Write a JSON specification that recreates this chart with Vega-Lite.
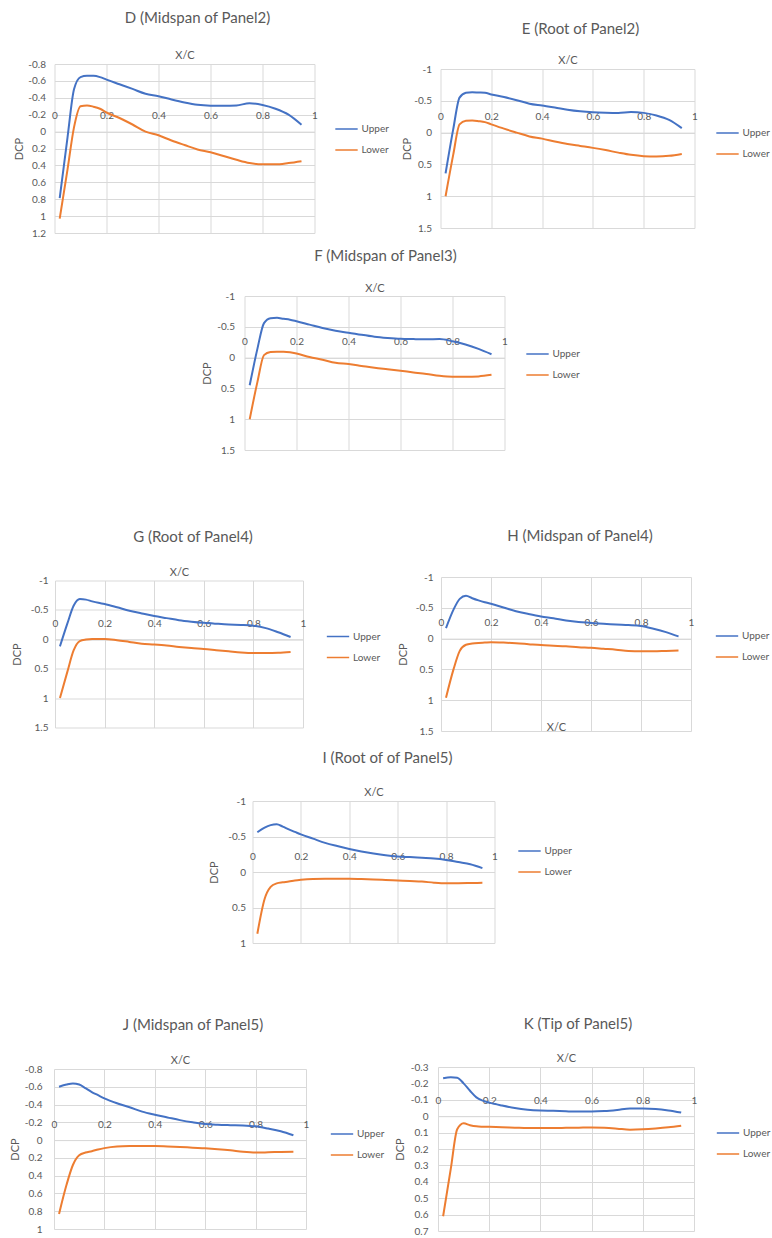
{
"$schema":"https://vega.github.io/schema/vega-lite/v6.json",
"background":"white",
"padding":{"left":9,"top":11,"right":0,"bottom":0},
"data":{"values":[
{"p":"D","x":0.02,"Upper":0.786,"Lower":1.03},{"p":"D","x":0.05,"Upper":0.07,"Lower":0.45},{"p":"D","x":0.075,"Upper":-0.5,"Lower":-0.05},{"p":"D","x":0.1,"Upper":-0.645,"Lower":-0.3},{"p":"D","x":0.125,"Upper":-0.66,"Lower":-0.31},{"p":"D","x":0.15,"Upper":-0.66,"Lower":-0.295},{"p":"D","x":0.175,"Upper":-0.645,"Lower":-0.27},{"p":"D","x":0.2,"Upper":-0.615,"Lower":-0.226},{"p":"D","x":0.25,"Upper":-0.56,"Lower":-0.161},{"p":"D","x":0.3,"Upper":-0.505,"Lower":-0.084},{"p":"D","x":0.35,"Upper":-0.448,"Lower":0.0},{"p":"D","x":0.4,"Upper":-0.419,"Lower":0.044},{"p":"D","x":0.45,"Upper":-0.38,"Lower":0.105},{"p":"D","x":0.5,"Upper":-0.345,"Lower":0.159},{"p":"D","x":0.55,"Upper":-0.318,"Lower":0.211},{"p":"D","x":0.6,"Upper":-0.307,"Lower":0.244},{"p":"D","x":0.65,"Upper":-0.305,"Lower":0.289},{"p":"D","x":0.7,"Upper":-0.31,"Lower":0.334},{"p":"D","x":0.75,"Upper":-0.335,"Lower":0.372},{"p":"D","x":0.8,"Upper":-0.315,"Lower":0.387},{"p":"D","x":0.85,"Upper":-0.27,"Lower":0.387},{"p":"D","x":0.9,"Upper":-0.2,"Lower":0.372},{"p":"D","x":0.95,"Upper":-0.08,"Lower":0.35},
{"p":"E","x":0.02,"Upper":0.64,"Lower":1.0},{"p":"E","x":0.05,"Upper":-0.05,"Lower":0.35},{"p":"E","x":0.075,"Upper":-0.55,"Lower":-0.13},{"p":"E","x":0.1,"Upper":-0.625,"Lower":-0.185},{"p":"E","x":0.125,"Upper":-0.635,"Lower":-0.19},{"p":"E","x":0.15,"Upper":-0.63,"Lower":-0.18},{"p":"E","x":0.175,"Upper":-0.625,"Lower":-0.165},{"p":"E","x":0.2,"Upper":-0.6,"Lower":-0.13},{"p":"E","x":0.25,"Upper":-0.56,"Lower":-0.062},{"p":"E","x":0.3,"Upper":-0.51,"Lower":0.0},{"p":"E","x":0.35,"Upper":-0.455,"Lower":0.06},{"p":"E","x":0.4,"Upper":-0.425,"Lower":0.095},{"p":"E","x":0.45,"Upper":-0.395,"Lower":0.14},{"p":"E","x":0.5,"Upper":-0.36,"Lower":0.18},{"p":"E","x":0.55,"Upper":-0.335,"Lower":0.21},{"p":"E","x":0.6,"Upper":-0.32,"Lower":0.24},{"p":"E","x":0.65,"Upper":-0.313,"Lower":0.275},{"p":"E","x":0.7,"Upper":-0.31,"Lower":0.315},{"p":"E","x":0.75,"Upper":-0.325,"Lower":0.35},{"p":"E","x":0.8,"Upper":-0.31,"Lower":0.37},{"p":"E","x":0.85,"Upper":-0.27,"Lower":0.375},{"p":"E","x":0.9,"Upper":-0.2,"Lower":0.365},{"p":"E","x":0.95,"Upper":-0.07,"Lower":0.335},
{"p":"F","x":0.02,"Upper":0.45,"Lower":1.0},{"p":"F","x":0.05,"Upper":-0.15,"Lower":0.39},{"p":"F","x":0.075,"Upper":-0.56,"Lower":-0.04},{"p":"F","x":0.1,"Upper":-0.64,"Lower":-0.09},{"p":"F","x":0.125,"Upper":-0.645,"Lower":-0.097},{"p":"F","x":0.15,"Upper":-0.63,"Lower":-0.095},{"p":"F","x":0.175,"Upper":-0.615,"Lower":-0.085},{"p":"F","x":0.2,"Upper":-0.59,"Lower":-0.065},{"p":"F","x":0.25,"Upper":-0.535,"Lower":-0.01},{"p":"F","x":0.3,"Upper":-0.48,"Lower":0.035},{"p":"F","x":0.35,"Upper":-0.435,"Lower":0.085},{"p":"F","x":0.4,"Upper":-0.405,"Lower":0.105},{"p":"F","x":0.45,"Upper":-0.37,"Lower":0.135},{"p":"F","x":0.5,"Upper":-0.34,"Lower":0.165},{"p":"F","x":0.55,"Upper":-0.32,"Lower":0.19},{"p":"F","x":0.6,"Upper":-0.305,"Lower":0.215},{"p":"F","x":0.65,"Upper":-0.3,"Lower":0.24},{"p":"F","x":0.7,"Upper":-0.297,"Lower":0.265},{"p":"F","x":0.75,"Upper":-0.3,"Lower":0.295},{"p":"F","x":0.8,"Upper":-0.265,"Lower":0.31},{"p":"F","x":0.85,"Upper":-0.213,"Lower":0.31},{"p":"F","x":0.9,"Upper":-0.142,"Lower":0.305},{"p":"F","x":0.95,"Upper":-0.055,"Lower":0.28},
{"p":"G","x":0.02,"Upper":0.12,"Lower":1.0},{"p":"G","x":0.05,"Upper":-0.27,"Lower":0.55},{"p":"G","x":0.075,"Upper":-0.57,"Lower":0.19},{"p":"G","x":0.1,"Upper":-0.685,"Lower":0.03},{"p":"G","x":0.125,"Upper":-0.675,"Lower":0.005},{"p":"G","x":0.15,"Upper":-0.645,"Lower":-0.005},{"p":"G","x":0.175,"Upper":-0.62,"Lower":-0.006},{"p":"G","x":0.2,"Upper":-0.6,"Lower":-0.006},{"p":"G","x":0.25,"Upper":-0.545,"Lower":0.015},{"p":"G","x":0.3,"Upper":-0.485,"Lower":0.045},{"p":"G","x":0.35,"Upper":-0.44,"Lower":0.075},{"p":"G","x":0.4,"Upper":-0.395,"Lower":0.088},{"p":"G","x":0.45,"Upper":-0.36,"Lower":0.105},{"p":"G","x":0.5,"Upper":-0.325,"Lower":0.13},{"p":"G","x":0.55,"Upper":-0.3,"Lower":0.15},{"p":"G","x":0.6,"Upper":-0.28,"Lower":0.165},{"p":"G","x":0.65,"Upper":-0.265,"Lower":0.185},{"p":"G","x":0.7,"Upper":-0.252,"Lower":0.205},{"p":"G","x":0.75,"Upper":-0.245,"Lower":0.225},{"p":"G","x":0.8,"Upper":-0.23,"Lower":0.235},{"p":"G","x":0.85,"Upper":-0.19,"Lower":0.235},{"p":"G","x":0.9,"Upper":-0.12,"Lower":0.23},{"p":"G","x":0.95,"Upper":-0.04,"Lower":0.215},
{"p":"H","x":0.02,"Upper":-0.17,"Lower":0.96},{"p":"H","x":0.05,"Upper":-0.47,"Lower":0.5},{"p":"H","x":0.075,"Upper":-0.645,"Lower":0.2},{"p":"H","x":0.1,"Upper":-0.695,"Lower":0.1},{"p":"H","x":0.125,"Upper":-0.655,"Lower":0.08},{"p":"H","x":0.15,"Upper":-0.62,"Lower":0.07},{"p":"H","x":0.175,"Upper":-0.59,"Lower":0.065},{"p":"H","x":0.2,"Upper":-0.565,"Lower":0.06},{"p":"H","x":0.25,"Upper":-0.505,"Lower":0.065},{"p":"H","x":0.3,"Upper":-0.445,"Lower":0.075},{"p":"H","x":0.35,"Upper":-0.4,"Lower":0.09},{"p":"H","x":0.4,"Upper":-0.36,"Lower":0.105},{"p":"H","x":0.45,"Upper":-0.33,"Lower":0.115},{"p":"H","x":0.5,"Upper":-0.295,"Lower":0.125},{"p":"H","x":0.55,"Upper":-0.27,"Lower":0.14},{"p":"H","x":0.6,"Upper":-0.255,"Lower":0.15},{"p":"H","x":0.65,"Upper":-0.24,"Lower":0.165},{"p":"H","x":0.7,"Upper":-0.228,"Lower":0.18},{"p":"H","x":0.75,"Upper":-0.22,"Lower":0.2},{"p":"H","x":0.8,"Upper":-0.205,"Lower":0.205},{"p":"H","x":0.85,"Upper":-0.16,"Lower":0.205},{"p":"H","x":0.9,"Upper":-0.105,"Lower":0.2},{"p":"H","x":0.95,"Upper":-0.035,"Lower":0.195},
{"p":"I","x":0.02,"Upper":-0.56,"Lower":0.87},{"p":"I","x":0.05,"Upper":-0.625,"Lower":0.38},{"p":"I","x":0.075,"Upper":-0.66,"Lower":0.21},{"p":"I","x":0.1,"Upper":-0.672,"Lower":0.16},{"p":"I","x":0.125,"Upper":-0.64,"Lower":0.145},{"p":"I","x":0.15,"Upper":-0.6,"Lower":0.135},{"p":"I","x":0.175,"Upper":-0.565,"Lower":0.12},{"p":"I","x":0.2,"Upper":-0.53,"Lower":0.11},{"p":"I","x":0.25,"Upper":-0.47,"Lower":0.098},{"p":"I","x":0.3,"Upper":-0.41,"Lower":0.095},{"p":"I","x":0.35,"Upper":-0.365,"Lower":0.096},{"p":"I","x":0.4,"Upper":-0.325,"Lower":0.096},{"p":"I","x":0.45,"Upper":-0.29,"Lower":0.1},{"p":"I","x":0.5,"Upper":-0.26,"Lower":0.105},{"p":"I","x":0.55,"Upper":-0.235,"Lower":0.112},{"p":"I","x":0.6,"Upper":-0.218,"Lower":0.12},{"p":"I","x":0.65,"Upper":-0.21,"Lower":0.128},{"p":"I","x":0.7,"Upper":-0.2,"Lower":0.135},{"p":"I","x":0.75,"Upper":-0.19,"Lower":0.15},{"p":"I","x":0.8,"Upper":-0.17,"Lower":0.158},{"p":"I","x":0.85,"Upper":-0.14,"Lower":0.158},{"p":"I","x":0.9,"Upper":-0.11,"Lower":0.156},{"p":"I","x":0.95,"Upper":-0.055,"Lower":0.153},
{"p":"J","x":0.02,"Upper":-0.6,"Lower":0.83},{"p":"J","x":0.05,"Upper":-0.625,"Lower":0.5},{"p":"J","x":0.075,"Upper":-0.637,"Lower":0.28},{"p":"J","x":0.1,"Upper":-0.625,"Lower":0.17},{"p":"J","x":0.125,"Upper":-0.585,"Lower":0.14},{"p":"J","x":0.15,"Upper":-0.54,"Lower":0.125},{"p":"J","x":0.175,"Upper":-0.505,"Lower":0.105},{"p":"J","x":0.2,"Upper":-0.47,"Lower":0.09},{"p":"J","x":0.25,"Upper":-0.415,"Lower":0.072},{"p":"J","x":0.3,"Upper":-0.37,"Lower":0.067},{"p":"J","x":0.35,"Upper":-0.32,"Lower":0.066},{"p":"J","x":0.4,"Upper":-0.285,"Lower":0.066},{"p":"J","x":0.45,"Upper":-0.255,"Lower":0.071},{"p":"J","x":0.5,"Upper":-0.225,"Lower":0.077},{"p":"J","x":0.55,"Upper":-0.2,"Lower":0.085},{"p":"J","x":0.6,"Upper":-0.18,"Lower":0.092},{"p":"J","x":0.65,"Upper":-0.172,"Lower":0.102},{"p":"J","x":0.7,"Upper":-0.168,"Lower":0.115},{"p":"J","x":0.75,"Upper":-0.165,"Lower":0.132},{"p":"J","x":0.8,"Upper":-0.155,"Lower":0.14},{"p":"J","x":0.85,"Upper":-0.13,"Lower":0.137},{"p":"J","x":0.9,"Upper":-0.1,"Lower":0.133},{"p":"J","x":0.95,"Upper":-0.055,"Lower":0.13},
{"p":"K","x":0.02,"Upper":-0.232,"Lower":0.61},{"p":"K","x":0.05,"Upper":-0.238,"Lower":0.32},{"p":"K","x":0.075,"Upper":-0.235,"Lower":0.08},{"p":"K","x":0.1,"Upper":-0.2,"Lower":0.043},{"p":"K","x":0.125,"Upper":-0.155,"Lower":0.055},{"p":"K","x":0.15,"Upper":-0.115,"Lower":0.062},{"p":"K","x":0.175,"Upper":-0.095,"Lower":0.064},{"p":"K","x":0.2,"Upper":-0.083,"Lower":0.065},{"p":"K","x":0.25,"Upper":-0.065,"Lower":0.068},{"p":"K","x":0.3,"Upper":-0.05,"Lower":0.07},{"p":"K","x":0.35,"Upper":-0.04,"Lower":0.072},{"p":"K","x":0.4,"Upper":-0.035,"Lower":0.072},{"p":"K","x":0.45,"Upper":-0.033,"Lower":0.072},{"p":"K","x":0.5,"Upper":-0.03,"Lower":0.071},{"p":"K","x":0.55,"Upper":-0.028,"Lower":0.07},{"p":"K","x":0.6,"Upper":-0.028,"Lower":0.069},{"p":"K","x":0.65,"Upper":-0.031,"Lower":0.071},{"p":"K","x":0.7,"Upper":-0.038,"Lower":0.076},{"p":"K","x":0.75,"Upper":-0.047,"Lower":0.082},{"p":"K","x":0.8,"Upper":-0.047,"Lower":0.08},{"p":"K","x":0.85,"Upper":-0.044,"Lower":0.075},{"p":"K","x":0.9,"Upper":-0.035,"Lower":0.068},{"p":"K","x":0.95,"Upper":-0.022,"Lower":0.058}
]},
"spacing":74,
"center":true,
"resolve":{"scale":{"color":"independent"},"legend":{"color":"independent"}},
"vconcat":[
 {"spacing":11,"center":true,
  "resolve":{"scale":{"color":"independent"},"legend":{"color":"independent"}},
  "vconcat":[
   {"hconcat":[
     {"width":260,"height":169,
      "title":{"text":"D (Midspan of Panel2)","offset":23,"dx":13},
      "transform":[{"filter":"datum.p=='D'"},{"fold":["Upper","Lower"],"as":["s","y"]}],
      "mark":{"type":"line","interpolate":"monotone","strokeWidth":2},
      "encoding":{
       "x":{"field":"x","type":"quantitative","scale":{"domain":[0,1],"nice":false},"axis":{"orient":"top","offset":-67.6,"values":[0,0.2,0.4,0.6,0.8,1],"labelExpr":"''+datum.value","title":"X/C","titleY":-76.6,"titleBaseline":"middle"}},
       "y":{"field":"y","type":"quantitative","scale":{"domain":[-0.8,1.2],"reverse":true,"nice":false,"zero":false},"axis":{"values":[-0.8,-0.6,-0.4,-0.2,0,0.2,0.4,0.6,0.8,1,1.2],"labelExpr":"''+datum.value","title":"DCP","labelPadding":9,"titlePadding":3}},
       "color":{"field":"s","type":"nominal","scale":{"domain":["Upper","Lower"],"range":["#4472C4","#ED7D31"]},"legend":{"title":null,"orient":"none","legendX":280,"legendY":53}}}},
     {"width":254,"height":159,
      "title":{"text":"E (Root of Panel2)","offset":17,"dx":13},
      "transform":[{"filter":"datum.p=='E'"},{"fold":["Upper","Lower"],"as":["s","y"]}],
      "mark":{"type":"line","interpolate":"monotone","strokeWidth":2},
      "encoding":{
       "x":{"field":"x","type":"quantitative","scale":{"domain":[0,1],"nice":false},"axis":{"orient":"top","offset":-63.6,"values":[0,0.2,0.4,0.6,0.8,1],"labelExpr":"''+datum.value","title":"X/C","titleY":-72.6,"titleBaseline":"middle"}},
       "y":{"field":"y","type":"quantitative","scale":{"domain":[-1,1.5],"reverse":true,"nice":false,"zero":false},"axis":{"values":[-1,-0.5,0,0.5,1,1.5],"labelExpr":"''+datum.value","title":"DCP","labelPadding":9,"titlePadding":1}},
       "color":{"field":"s","type":"nominal","scale":{"domain":["Upper","Lower"],"range":["#4472C4","#ED7D31"]},"legend":{"title":null,"orient":"none","legendX":275,"legendY":52}}}}
    ],
    "spacing":126,"bounds":"flush","center":true,
    "resolve":{"scale":{"color":"independent"},"legend":{"color":"independent"}}},
   {"width":260,"height":154,
    "title":{"text":"F (Midspan of Panel3)","offset":18,"dx":11},
    "transform":[{"filter":"datum.p=='F'"},{"fold":["Upper","Lower"],"as":["s","y"]}],
    "mark":{"type":"line","interpolate":"monotone","strokeWidth":2},
    "encoding":{
     "x":{"field":"x","type":"quantitative","scale":{"domain":[0,1],"nice":false},"axis":{"orient":"top","offset":-61.6,"values":[0,0.2,0.4,0.6,0.8,1],"labelExpr":"''+datum.value","title":"X/C","titleY":-69.6,"titleBaseline":"middle"}},
     "y":{"field":"y","type":"quantitative","scale":{"domain":[-1,1.5],"reverse":true,"nice":false,"zero":false},"axis":{"values":[-1,-0.5,0,0.5,1,1.5],"labelExpr":"''+datum.value","title":"DCP","labelPadding":10,"titlePadding":4}},
     "color":{"field":"s","type":"nominal","scale":{"domain":["Upper","Lower"],"range":["#4472C4","#ED7D31"]},"legend":{"title":null,"orient":"none","legendX":281,"legendY":46}}}}
  ]},
 {"spacing":69,"center":true,
  "resolve":{"scale":{"color":"independent"},"legend":{"color":"independent"}},
  "vconcat":[
   {"spacing":15,"center":true,
    "resolve":{"scale":{"color":"independent"},"legend":{"color":"independent"}},
    "vconcat":[
     {"hconcat":[
       {"width":248,"height":147,
        "title":{"text":"G (Root of Panel4)","offset":22,"dx":14},
        "transform":[{"filter":"datum.p=='G'"},{"fold":["Upper","Lower"],"as":["s","y"]}],
        "mark":{"type":"line","interpolate":"monotone","strokeWidth":2},
        "encoding":{
         "x":{"field":"x","type":"quantitative","scale":{"domain":[0,1],"nice":false},"axis":{"orient":"top","offset":-58.8,"values":[0,0.2,0.4,0.6,0.8,1],"labelExpr":"''+datum.value","title":"X/C","titleY":-66.8,"titleBaseline":"middle"}},
         "y":{"field":"y","type":"quantitative","scale":{"domain":[-1,1.5],"reverse":true,"nice":false,"zero":false},"axis":{"values":[-1,-0.5,0,0.5,1,1.5],"labelExpr":"''+datum.value","title":"DCP","labelPadding":7,"titlePadding":8}},
         "color":{"field":"s","type":"nominal","scale":{"domain":["Upper","Lower"],"range":["#4472C4","#ED7D31"]},"legend":{"title":null,"orient":"none","legendX":271,"legendY":44}}}},
       {"width":250,"height":154,
        "title":{"text":"H (Midspan of Panel4)","offset":28,"dx":14},
        "transform":[{"filter":"datum.p=='H'"},{"fold":["Upper","Lower"],"as":["s","y"]}],
        "mark":{"type":"line","interpolate":"monotone","strokeWidth":2},
        "encoding":{
         "x":{"field":"x","type":"quantitative","scale":{"domain":[0,1],"nice":false},"axis":{"orient":"top","offset":-61.6,"values":[0,0.2,0.4,0.6,0.8,1],"labelExpr":"''+datum.value","title":"X/C","titleY":88.4,"titleX":115,"titleBaseline":"middle"}},
         "y":{"field":"y","type":"quantitative","scale":{"domain":[-1,1.5],"reverse":true,"nice":false,"zero":false},"axis":{"values":[-1,-0.5,0,0.5,1,1.5],"labelExpr":"''+datum.value","title":"DCP","labelPadding":8,"titlePadding":7}},
         "color":{"field":"s","type":"nominal","scale":{"domain":["Upper","Lower"],"range":["#4472C4","#ED7D31"]},"legend":{"title":null,"orient":"none","legendX":274,"legendY":47}}}}
      ],
      "spacing":138,"bounds":"flush","center":true,
      "resolve":{"scale":{"color":"independent"},"legend":{"color":"independent"}}},
     {"width":242,"height":142,
      "title":{"text":"I (Root of of Panel5)","offset":20,"dx":14},
      "transform":[{"filter":"datum.p=='I'"},{"fold":["Upper","Lower"],"as":["s","y"]}],
      "mark":{"type":"line","interpolate":"monotone","strokeWidth":2},
      "encoding":{
       "x":{"field":"x","type":"quantitative","scale":{"domain":[0,1],"nice":false},"axis":{"orient":"top","offset":-71,"values":[0,0.2,0.4,0.6,0.8,1],"labelExpr":"''+datum.value","title":"X/C","titleY":-80,"titleBaseline":"middle"}},
       "y":{"field":"y","type":"quantitative","scale":{"domain":[-1,1],"reverse":true,"nice":false,"zero":false},"axis":{"values":[-1,-0.5,0,0.5,1],"labelExpr":"''+datum.value","title":"DCP","labelPadding":7,"titlePadding":8}},
       "color":{"field":"s","type":"nominal","scale":{"domain":["Upper","Lower"],"range":["#4472C4","#ED7D31"]},"legend":{"title":null,"orient":"none","legendX":265,"legendY":38}}}}
    ]},
   {"hconcat":[
     {"width":252,"height":160,
      "title":{"text":"J (Midspan of Panel5)","offset":21,"dx":13},
      "transform":[{"filter":"datum.p=='J'"},{"fold":["Upper","Lower"],"as":["s","y"]}],
      "mark":{"type":"line","interpolate":"monotone","strokeWidth":2},
      "encoding":{
       "x":{"field":"x","type":"quantitative","scale":{"domain":[0,1],"nice":false},"axis":{"orient":"top","offset":-71.1,"values":[0,0.2,0.4,0.6,0.8,1],"labelExpr":"''+datum.value","title":"X/C","titleY":-80.1,"titleBaseline":"middle"}},
       "y":{"field":"y","type":"quantitative","scale":{"domain":[-0.8,1],"reverse":true,"nice":false,"zero":false},"axis":{"values":[-0.8,-0.6,-0.4,-0.2,0,0.2,0.4,0.6,0.8,1],"labelExpr":"''+datum.value","title":"DCP","labelPadding":12,"titlePadding":4}},
       "color":{"field":"s","type":"nominal","scale":{"domain":["Upper","Lower"],"range":["#4472C4","#ED7D31"]},"legend":{"title":null,"orient":"none","legendX":276,"legendY":53}}}},
     {"width":256,"height":164,
      "title":{"text":"K (Tip of Panel5)","offset":20,"dx":12},
      "transform":[{"filter":"datum.p=='K'"},{"fold":["Upper","Lower"],"as":["s","y"]}],
      "mark":{"type":"line","interpolate":"monotone","strokeWidth":2},
      "encoding":{
       "x":{"field":"x","type":"quantitative","scale":{"domain":[0,1],"nice":false},"axis":{"orient":"top","offset":-49.2,"values":[0,0.2,0.4,0.6,0.8,1],"labelExpr":"''+datum.value","title":"X/C","titleY":-58.2,"titleBaseline":"middle"}},
       "y":{"field":"y","type":"quantitative","scale":{"domain":[-0.3,0.7],"reverse":true,"nice":false,"zero":false},"axis":{"values":[-0.3,-0.2,-0.1,0,0.1,0.2,0.3,0.4,0.5,0.6,0.7],"labelExpr":"''+datum.value","title":"DCP","labelPadding":10,"titlePadding":5}},
       "color":{"field":"s","type":"nominal","scale":{"domain":["Upper","Lower"],"range":["#4472C4","#ED7D31"]},"legend":{"title":null,"orient":"none","legendX":278,"legendY":54}}}}
    ],
    "spacing":132,"bounds":"flush","center":true,
    "resolve":{"scale":{"color":"independent"},"legend":{"color":"independent"}}}
  ]}
],
"config":{
 "font":"Lato",
 "view":{"stroke":null},
 "axis":{"labelColor":"#595959","labelFontSize":10,"titleColor":"#595959","titleFontSize":11,"titleFontWeight":"normal","gridColor":"#d9d9d9","gridWidth":1,"ticks":false,"domain":false,"labelFlush":false,"labelOverlap":false},
 "axisX":{"domain":true,"domainColor":"#d9d9d9","labelPadding":11},
 "axisY":{"labelPadding":8,"titlePadding":3},
 "legend":{"labelColor":"#595959","labelFontSize":10,"symbolType":"stroke","symbolSize":500,"symbolStrokeWidth":1.5,"labelOffset":3,"rowPadding":4},
 "title":{"fontSize":15,"fontWeight":"normal","color":"#595959","anchor":"middle","frame":"group"}
}
}
